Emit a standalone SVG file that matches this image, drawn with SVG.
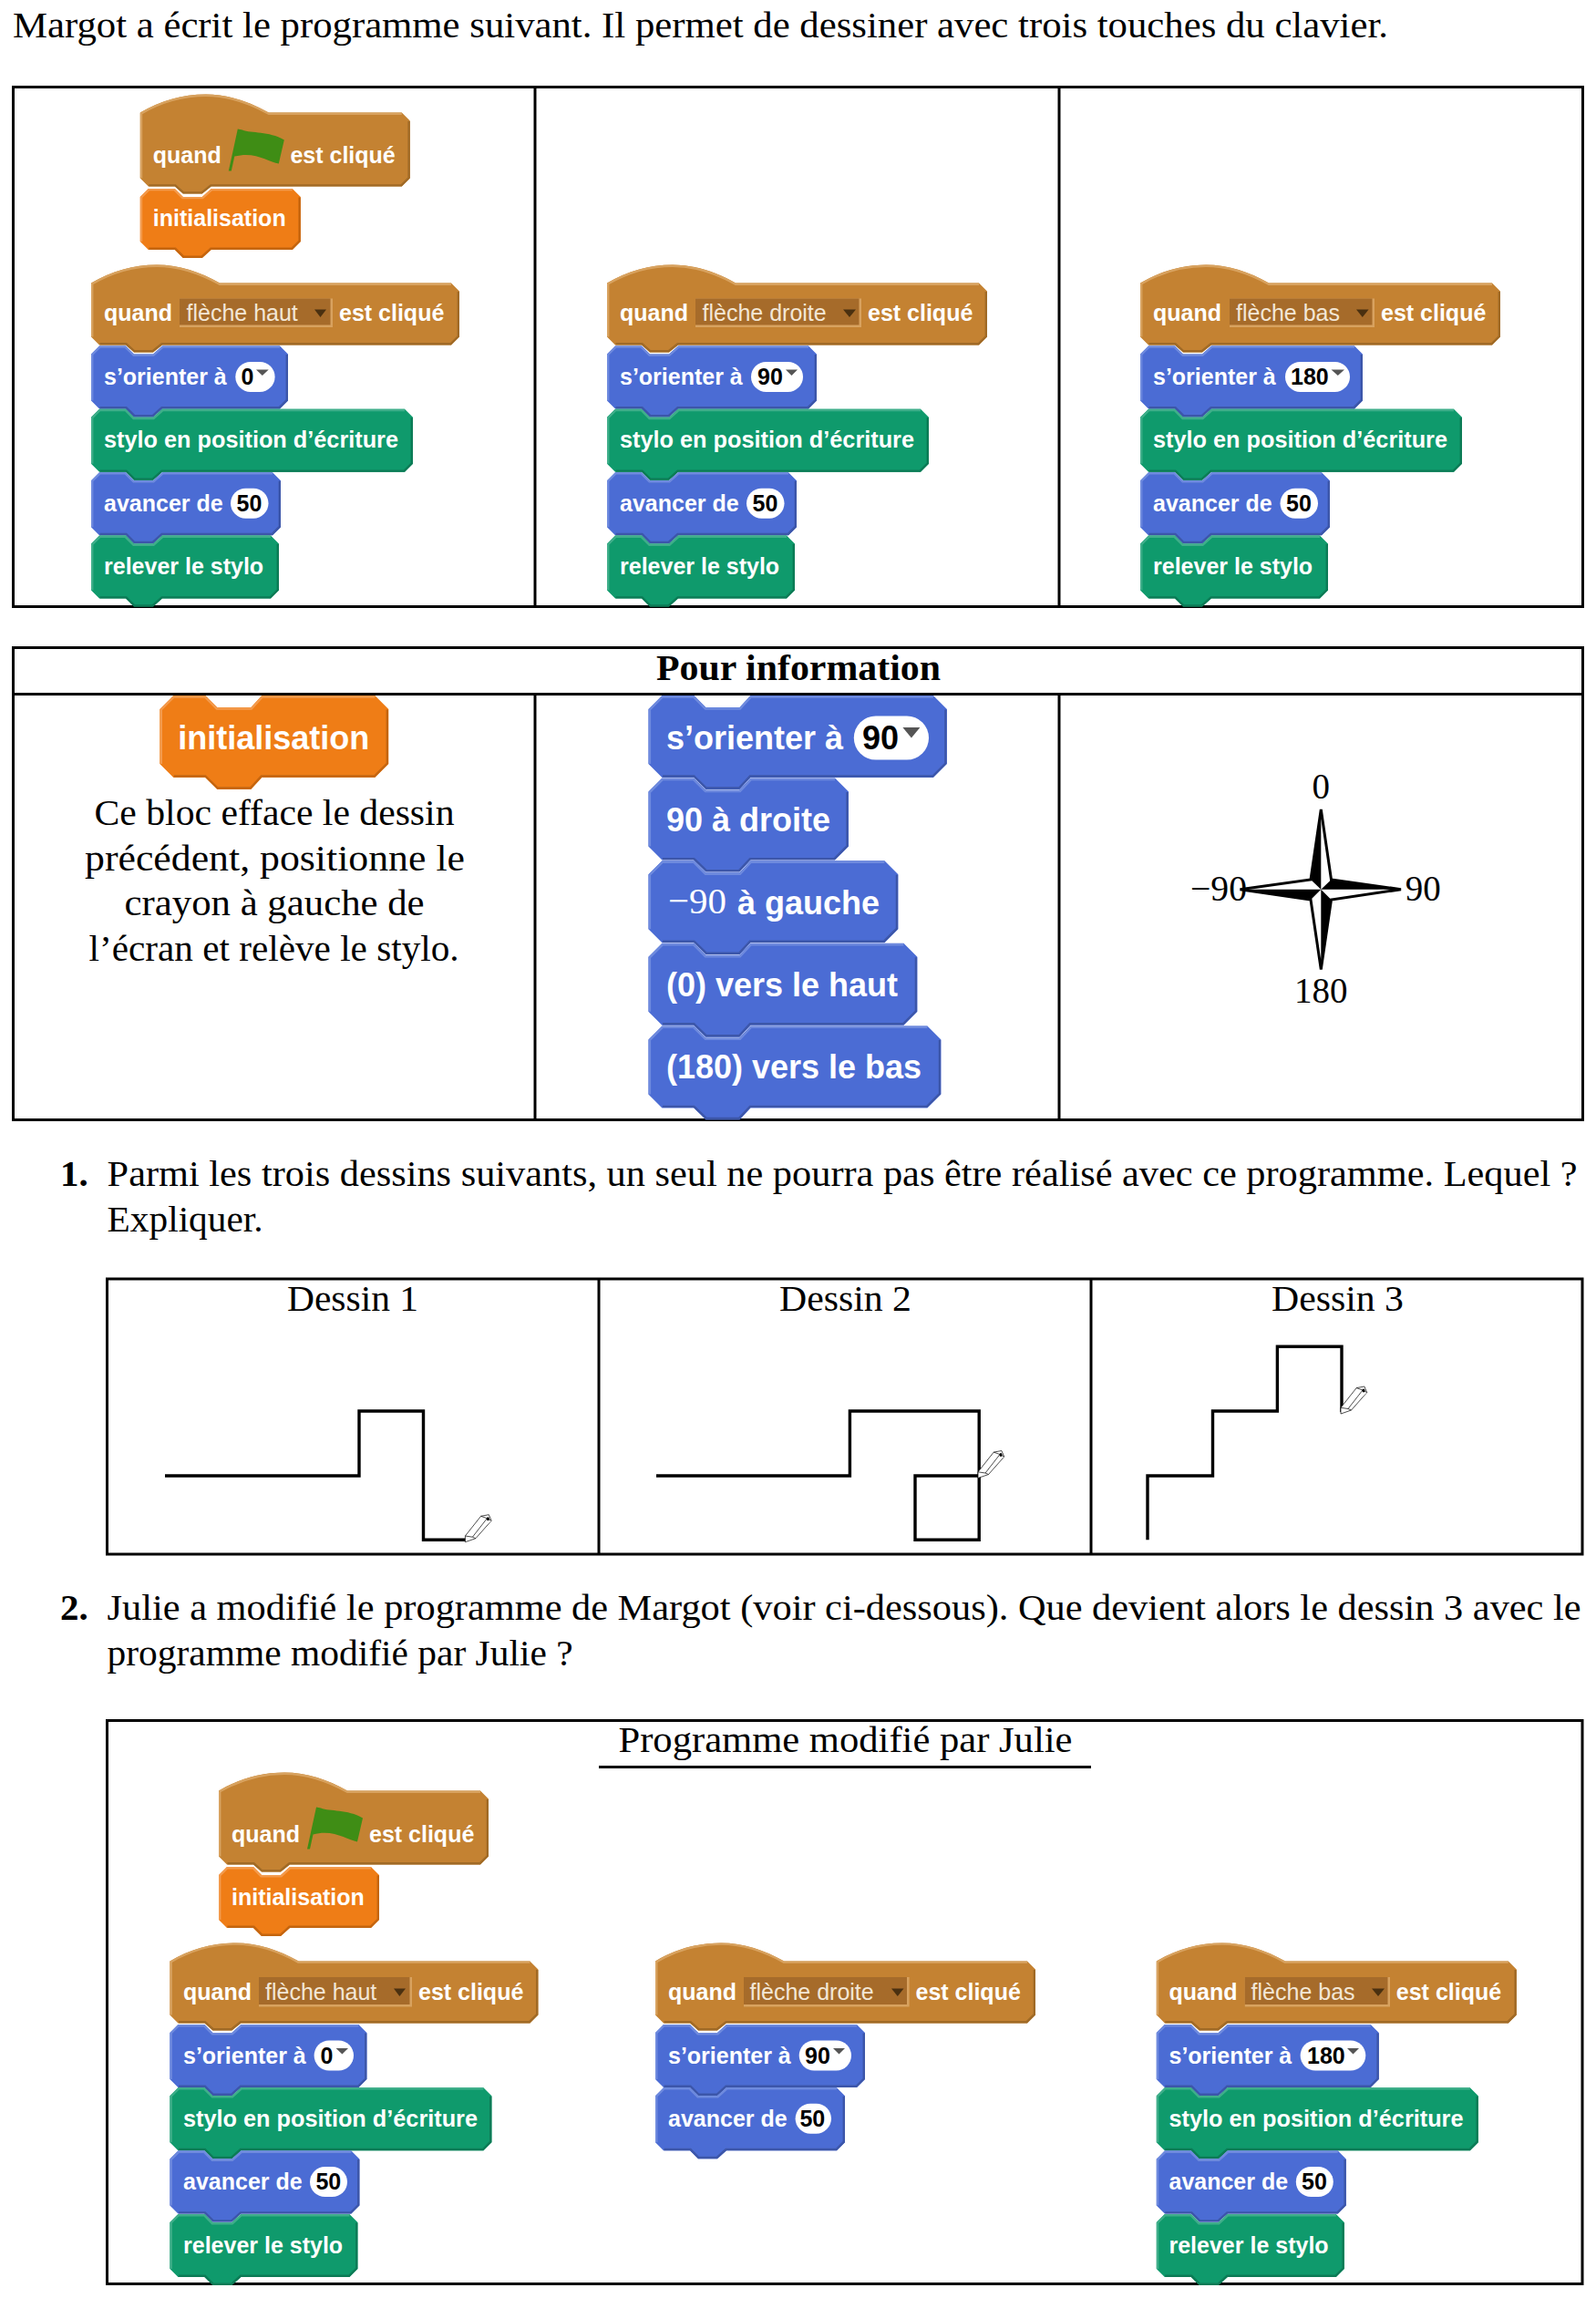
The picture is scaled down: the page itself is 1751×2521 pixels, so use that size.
<svg xmlns="http://www.w3.org/2000/svg" width="1751" height="2521" viewBox="0 0 1751 2521">
<style>
.blue{--f:#4b6cd4;--h:#6e8ade;--d:#3c56a9}
.green{--f:#0f9a6c;--h:#3fae8a;--d:#0c7b56}
.orange{--f:#ef7d16;--h:#f39a4c;--d:#c4650f}
.brown{--f:#c48232;--h:#d8a25f;--d:#a06a26}
.f{fill:var(--f)}
.h{fill:none;stroke:var(--h);stroke-width:2.4}
.d{fill:none;stroke:var(--d);stroke-width:2.4}
.t{font-family:"Liberation Sans",Arial,sans-serif;font-weight:700;font-size:25px;fill:#fff}
.big{font-size:36px}
.v{font-family:"Liberation Sans",Arial,sans-serif;font-weight:700;font-size:25px;fill:#000}
.vb{font-size:36px}
.dd{font-family:"Liberation Sans",Arial,sans-serif;font-size:25px;fill:#f3e7d6}
.pill{fill:#fff}
.tri{fill:#555}
.dtri{fill:#4a3010}
.ddl{fill:#d8a25f}
.ddk{fill:#a66b2a}
.flag{fill:#3f8d15}
.s{font-family:"Liberation Serif","Times New Roman",serif;font-size:41px;fill:#000}
.b{font-weight:700}
.n{font-size:39px}
.rule{fill:none;stroke:#000;stroke-width:3}
.draw{fill:none;stroke:#000;stroke-width:3.4;stroke-linejoin:miter}
.pen{fill:#fff;stroke:#000;stroke-width:.7;stroke-linejoin:round}
</style>
<defs>
<g id="s176"><path class="f" d="M0 9 9 0H38l9 9H68L78 0H167l9 9v49l-9 9H78L68 76H47L38 67H9L0 58z"/><path class="h" d="M1.2 58V9.5L9.5 1.2H37.5l9 9H68.5l10-9H167"/><path class="d" d="M174.8 9.5v48l-8.3 8.3H77.5l-10 9H47.5l-9-9H9.5"/></g>
<g id="s216"><path class="f" d="M0 9 9 0H38l9 9H68L78 0H207l9 9v51l-9 9H78L68 78H47L38 69H9L0 60z"/><path class="h" d="M1.2 60V9.5L9.5 1.2H37.5l9 9H68.5l10-9H207"/><path class="d" d="M214.8 9.5v50l-8.3 8.3H77.5l-10 9H47.5l-9-9H9.5"/></g>
<g id="s230"><path class="f" d="M0 9 9 0H38l9 9H68L78 0H221l9 9v51l-9 9H78L68 78H47L38 69H9L0 60z"/><path class="h" d="M1.2 60V9.5L9.5 1.2H37.5l9 9H68.5l10-9H221"/><path class="d" d="M228.8 9.5v50l-8.3 8.3H77.5l-10 9H47.5l-9-9H9.5"/></g>
<g id="s244"><path class="f" d="M0 9 9 0H38l9 9H68L78 0H235l9 9v51l-9 9H78L68 78H47L38 69H9L0 60z"/><path class="h" d="M1.2 60V9.5L9.5 1.2H37.5l9 9H68.5l10-9H235"/><path class="d" d="M242.8 9.5v50l-8.3 8.3H77.5l-10 9H47.5l-9-9H9.5"/></g>
<g id="s353"><path class="f" d="M0 9 9 0H38l9 9H68L78 0H344l9 9v51l-9 9H78L68 78H47L38 69H9L0 60z"/><path class="h" d="M1.2 60V9.5L9.5 1.2H37.5l9 9H68.5l10-9H344"/><path class="d" d="M351.8 9.5v50l-8.3 8.3H77.5l-10 9H47.5l-9-9H9.5"/></g>
<g id="s208"><path class="f" d="M0 9 9 0H38l9 9H68L78 0H199l9 9v51l-9 9H78L68 78H47L38 69H9L0 60z"/><path class="h" d="M1.2 60V9.5L9.5 1.2H37.5l9 9H68.5l10-9H199"/><path class="d" d="M206.8 9.5v50l-8.3 8.3H77.5l-10 9H47.5l-9-9H9.5"/></g>
<g id="s206"><path class="f" d="M0 9 9 0H38l9 9H68L78 0H197l9 9v51l-9 9H78L68 78H47L38 69H9L0 60z"/><path class="h" d="M1.2 60V9.5L9.5 1.2H37.5l9 9H68.5l10-9H197"/><path class="d" d="M204.8 9.5v50l-8.3 8.3H77.5l-10 9H47.5l-9-9H9.5"/></g>
<g id="hflag"><path class="f" d="M0 0C22-13 46-20 72-20C97-20 120-12 141 0H287l9 9v63l-9 9H78L68 89H47L38 81H9L0 72z"/><path class="h" d="M1.2 72V.8C23-12 46-18.8 72-18.8C97-18.8 119-11 141 1.2H287"/><path class="d" d="M294.8 9.5v62l-8.3 8.3H77.5l-10 8H47.5l-9-8H9.5"/><path class="flag" d="M97 64 107 18 112 19C122 23 141 20 158 30L152 56C141 54 126 42 103.5 48L100 64z"/></g>
<g id="h404"><path class="f" d="M0 0C22-13 46-20 72-20C97-20 120-12 141 0H395l9 9v50l-9 9H78L68 76H47L38 68H9L0 59z"/><path class="h" d="M1.2 59V.8C23-12 46-18.8 72-18.8C97-18.8 119-11 141 1.2H395"/><path class="d" d="M402.8 9.5v49l-8.3 8.3H77.5l-10 8H47.5l-9-8H9.5"/></g>
<g id="h417"><path class="f" d="M0 0C22-13 46-20 72-20C97-20 120-12 141 0H408l9 9v50l-9 9H78L68 76H47L38 68H9L0 59z"/><path class="h" d="M1.2 59V.8C23-12 46-18.8 72-18.8C97-18.8 119-11 141 1.2H408"/><path class="d" d="M415.8 9.5v49l-8.3 8.3H77.5l-10 8H47.5l-9-8H9.5"/></g>
<g id="h395"><path class="f" d="M0 0C22-13 46-20 72-20C97-20 120-12 141 0H386l9 9v50l-9 9H78L68 76H47L38 68H9L0 59z"/><path class="h" d="M1.2 59V.8C23-12 46-18.8 72-18.8C97-18.8 119-11 141 1.2H386"/><path class="d" d="M393.8 9.5v49l-8.3 8.3H77.5l-10 8H47.5l-9-8H9.5"/></g>
<g id="pencil"><path class="pen" d="M0 0 0-6.7 17.2-28.4 25.9-30 28.7-23.4 11.5-4Z"/><path class="pen" d="M0-6.7 8-5.5 11.5-4M8-5.5 24-26 28.7-23.4M24-26 17.2-28.4"/><ellipse cx="25" cy="-25.5" rx="1.5" ry="2" fill="#000"/></g>
</defs>

<text class="s" x="14" y="41" textLength="1509" lengthAdjust="spacingAndGlyphs">Margot a écrit le programme suivant. Il permet de dessiner avec trois touches du clavier.</text>

<g id="table-programme">
<rect class="rule" x="14.5" y="95.5" width="1722" height="570"/>
<path class="rule" d="M587 95.5V665.5M1162 95.5V665.5"/>
</g>

<g id="m-flag" class="brown" transform="translate(153.8 123.6)"><use href="#hflag"/><text class="t" x="14" y="55">quand</text><text class="t" x="164.6" y="55">est cliqué</text></g>
<g id="m-init" class="orange" transform="translate(153.8 206.9)"><use href="#s176"/><text class="t" x="14" y="41.5">initialisation</text></g>

<g id="m-haut-hat" class="brown" transform="translate(100 310.5)"><use href="#h404"/><text class="t" x="14" y="41.5">quand</text><rect class="ddl" x="97" y="17" width="168" height="31.5"/><rect class="ddk" x="97" y="17" width="165.5" height="29"/><text class="dd" x="104.5" y="41.5">flèche haut</text><path class="dtri" d="M245 29H258L251.5 37.5z"/><text class="t" x="272" y="41.5">est cliqué</text></g>
<g id="m-haut-or" class="blue" transform="translate(100 379.4)"><use href="#s216"/><text class="t" x="14" y="43">s’orienter à</text><rect class="pill" x="158.3" y="17.5" width="43.3" height="33" rx="16.5"/><text class="v" x="164.4" y="43">0</text><path class="tri" d="M181 26H194.7L187.8 32.6z"/></g>
<g id="m-haut-st" class="green" transform="translate(100 448.8)"><use href="#s353"/><text class="t" x="14" y="42.5" textLength="323" lengthAdjust="spacingAndGlyphs">stylo en position d’écriture</text></g>
<g id="m-haut-av" class="blue" transform="translate(100 518.2)"><use href="#s208"/><text class="t" x="14" y="42.5">avancer de</text><rect class="pill" x="153" y="17.5" width="41.5" height="33" rx="16.5"/><text class="v" x="159.5" y="42.5">50</text></g>
<g id="m-haut-re" class="green" transform="translate(100 587.6)"><use href="#s206"/><text class="t" x="14" y="42.5">relever le stylo</text></g>

<g id="m-droite-hat" class="brown" transform="translate(666 310.5)"><use href="#h417"/><text class="t" x="14" y="41.5">quand</text><rect class="ddl" x="97" y="17" width="182" height="31.5"/><rect class="ddk" x="97" y="17" width="179.5" height="29"/><text class="dd" x="104.5" y="41.5">flèche droite</text><path class="dtri" d="M259 29H273L266 37.5z"/><text class="t" x="286" y="41.5">est cliqué</text></g>
<g id="m-droite-or" class="blue" transform="translate(666 379.4)"><use href="#s230"/><text class="t" x="14" y="43">s’orienter à</text><rect class="pill" x="158" y="17.5" width="57" height="33" rx="16.5"/><text class="v" x="165" y="43">90</text><path class="tri" d="M196 26H209L202.5 32.6z"/></g>
<g id="m-droite-st" class="green" transform="translate(666 448.8)"><use href="#s353"/><text class="t" x="14" y="42.5" textLength="323" lengthAdjust="spacingAndGlyphs">stylo en position d’écriture</text></g>
<g id="m-droite-av" class="blue" transform="translate(666 518.2)"><use href="#s208"/><text class="t" x="14" y="42.5">avancer de</text><rect class="pill" x="153" y="17.5" width="41.5" height="33" rx="16.5"/><text class="v" x="159.5" y="42.5">50</text></g>
<g id="m-droite-re" class="green" transform="translate(666 587.6)"><use href="#s206"/><text class="t" x="14" y="42.5">relever le stylo</text></g>

<g id="m-bas-hat" class="brown" transform="translate(1251 310.5)"><use href="#h395"/><text class="t" x="14" y="41.5">quand</text><rect class="ddl" x="98" y="17" width="159" height="31.5"/><rect class="ddk" x="98" y="17" width="156.5" height="29"/><text class="dd" x="105" y="41.5">flèche bas</text><path class="dtri" d="M237 29H250.6L243.8 37.5z"/><text class="t" x="264" y="41.5">est cliqué</text></g>
<g id="m-bas-or" class="blue" transform="translate(1251 379.4)"><use href="#s244"/><text class="t" x="14" y="43">s’orienter à</text><rect class="pill" x="159" y="17.5" width="71" height="33" rx="16.5"/><text class="v" x="165" y="43">180</text><path class="tri" d="M209.5 26H224L216.8 32.6z"/></g>
<g id="m-bas-st" class="green" transform="translate(1251 448.8)"><use href="#s353"/><text class="t" x="14" y="42.5" textLength="323" lengthAdjust="spacingAndGlyphs">stylo en position d’écriture</text></g>
<g id="m-bas-av" class="blue" transform="translate(1251 518.2)"><use href="#s208"/><text class="t" x="14" y="42.5">avancer de</text><rect class="pill" x="153.5" y="17.5" width="41.5" height="33" rx="16.5"/><text class="v" x="160" y="42.5">50</text></g>
<g id="m-bas-re" class="green" transform="translate(1251 587.6)"><use href="#s206"/><text class="t" x="14" y="42.5">relever le stylo</text></g>

<g id="table-info">
<rect class="rule" x="14.5" y="710.5" width="1722" height="518"/>
<path class="rule" d="M14.5 761.5H1736.5M587 761.5V1228.5M1162 761.5V1228.5"/>
<text class="s b" x="720" y="746" textLength="312" lengthAdjust="spacingAndGlyphs">Pour information</text>
</g>
<g id="i-init" class="orange" transform="translate(175.3 763)"><path class="f" d="M0 15 15 0H50l13 13H100L112 0H236l15 15v60l-15 15H112l-12 13H63L50 90H15L0 75z"/><path class="h" d="M1.5 75V15.5L15.5 1.5H49.5l13 13H100.5L112.5 1.5H236"/><path class="d" d="M249.5 15.5v59l-14 14H111.5l-12 13H63.5L50 88.5H15.5"/><text class="t big" x="20" y="58.5">initialisation</text></g>
<g id="i-texte">
<text class="s" x="103.5" y="905" textLength="395" lengthAdjust="spacingAndGlyphs">Ce bloc efface le dessin</text>
<text class="s" x="93" y="954.5" textLength="417" lengthAdjust="spacingAndGlyphs">précédent, positionne le</text>
<text class="s" x="136.6" y="1004" textLength="329" lengthAdjust="spacingAndGlyphs">crayon à gauche de</text>
<text class="s" x="97.6" y="1053.5" textLength="406" lengthAdjust="spacingAndGlyphs">l’écran et relève le stylo.</text>
</g>
<g id="i-or" class="blue" transform="translate(711.4 763)"><path class="f" d="M0 15 15 0H50l13 13H100L112 0H312.5l15 15v60l-15 15H112l-12 13H63L50 90H15L0 75z"/><path class="h" d="M1.5 75V15.5L15.5 1.5H49.5l13 13H100.5L112.5 1.5H312.5"/><path class="d" d="M326 15.5v59l-14 14H111.5l-12 13H63.5L50 88.5H15.5"/><text class="t big" x="19.5" y="58.5">s’orienter à</text><rect class="pill" x="225.4" y="22.4" width="82.2" height="48.2" rx="24.1"/><text class="v vb" x="234.6" y="58.5">90</text><path class="tri" d="M279 35H298L288.5 46.5z"/></g>
<g id="i-droite" class="blue" transform="translate(711.4 853.6)"><path class="f" d="M0 15 15 0H50l13 13H100L112 0H204.6l15 15v60l-15 15H112l-12 13H63L50 90H15L0 75z"/><path class="h" d="M1.5 75V15.5L15.5 1.5H49.5l13 13H100.5L112.5 1.5H204.6"/><path class="d" d="M218.1 15.5v59l-14 14H111.5l-12 13H63.5L50 88.5H15.5"/><text class="t big" x="19.5" y="58">90 à droite</text></g>
<g id="i-gauche" class="blue" transform="translate(711.4 944.2)"><path class="f" d="M0 15 15 0H50l13 13H100L112 0H259l15 15v60l-15 15H112l-12 13H63L50 90H15L0 75z"/><path class="h" d="M1.5 75V15.5L15.5 1.5H49.5l13 13H100.5L112.5 1.5H259"/><path class="d" d="M272.5 15.5v59l-14 14H111.5l-12 13H63.5L50 88.5H15.5"/><text class="s" style="fill:#fff" x="21.6" y="58" textLength="64" lengthAdjust="spacingAndGlyphs">−90</text><text class="t big" x="97.6" y="58.5">à gauche</text></g>
<g id="i-haut" class="blue" transform="translate(711.4 1034.8)"><path class="f" d="M0 15 15 0H50l13 13H100L112 0H280l15 15v60l-15 15H112l-12 13H63L50 90H15L0 75z"/><path class="h" d="M1.5 75V15.5L15.5 1.5H49.5l13 13H100.5L112.5 1.5H280"/><path class="d" d="M293.5 15.5v59l-14 14H111.5l-12 13H63.5L50 88.5H15.5"/><text class="t big" x="19.5" y="58">(0) vers le haut</text></g>
<g id="i-bas" class="blue" transform="translate(711.4 1125.4)"><path class="f" d="M0 15 15 0H50l13 13H100L112 0H306l15 15v60l-15 15H112l-12 13H63L50 90H15L0 75z"/><path class="h" d="M1.5 75V15.5L15.5 1.5H49.5l13 13H100.5L112.5 1.5H306"/><path class="d" d="M319.5 15.5v59l-14 14H111.5l-12 13H63.5L50 88.5H15.5"/><text class="t big" x="19.5" y="58">(180) vers le bas</text></g>

<g id="rose">
<path d="M1449.3 888 1438 965 1360.5 975.7 1438 987 1449.3 1063.5 1460.5 987 1537 975.7 1460.5 965z" fill="#fff" stroke="#000" stroke-width="3" stroke-linejoin="miter" stroke-miterlimit="4"/>
<path d="M1449.3 888 1438 965 1449.3 975.7zM1537 975.7 1460.5 965 1449.3 975.7zM1449.3 1063.5 1460.5 987 1449.3 975.7zM1360.5 975.7 1438 987 1449.3 975.7z" fill="#000"/>
<text class="s n" x="1449.3" y="875.5" text-anchor="middle">0</text>
<text class="s n" x="1449.3" y="1100" text-anchor="middle">180</text>
<text class="s n" x="1541.7" y="988">90</text>
<text class="s n" x="1306" y="988" textLength="62" lengthAdjust="spacingAndGlyphs">−90</text>
</g>

<text class="s b" x="66" y="1301">1.</text>
<text class="s" x="117.6" y="1301" textLength="1613" lengthAdjust="spacingAndGlyphs">Parmi les trois dessins suivants, un seul ne pourra pas être réalisé avec ce programme. Lequel ?</text>
<text class="s" x="117.6" y="1351" textLength="171" lengthAdjust="spacingAndGlyphs">Expliquer.</text>

<g id="table-dessins">
<rect class="rule" x="117.5" y="1403" width="1618.5" height="302"/>
<path class="rule" d="M657 1403V1705M1197 1403V1705"/>
<text class="s" x="315" y="1438" textLength="144" lengthAdjust="spacingAndGlyphs">Dessin 1</text>
<text class="s" x="855" y="1438" textLength="145" lengthAdjust="spacingAndGlyphs">Dessin 2</text>
<text class="s" x="1395" y="1438" textLength="145" lengthAdjust="spacingAndGlyphs">Dessin 3</text>
</g>
<g id="dessin-1"><path class="draw" d="M181 1619H394V1548H464.5V1689.3H512"/><use href="#pencil" x="510.4" y="1691.7"/></g>
<g id="dessin-2"><path class="draw" d="M720 1619H932.4V1548H1074.2V1689.3H1004V1619H1074.2"/><use href="#pencil" x="1073" y="1621.5"/></g>
<g id="dessin-3"><path class="draw" d="M1259 1689.3V1619H1330.5V1548H1401.4V1477.3H1472V1549"/><use href="#pencil" x="1471" y="1551"/></g>

<text class="s b" x="66" y="1777">2.</text>
<text class="s" x="117.6" y="1777" textLength="1617" lengthAdjust="spacingAndGlyphs">Julie a modifié le programme de Margot (voir ci-dessous). Que devient alors le dessin 3 avec le</text>
<text class="s" x="117.6" y="1827" textLength="511" lengthAdjust="spacingAndGlyphs">programme modifié par Julie ?</text>

<g id="table-julie">
<rect class="rule" x="117.5" y="1887.5" width="1618.5" height="618"/>
<path class="rule" d="M657 1938.5H1197"/>
<text class="s" x="678.5" y="1922" textLength="498" lengthAdjust="spacingAndGlyphs">Programme modifié par Julie</text>
</g>

<g id="j-flag" class="brown" transform="translate(240 1964.5)"><use href="#hflag"/><text class="t" x="14" y="56">quand</text><text class="t" x="165" y="56">est cliqué</text></g>
<g id="j-init" class="orange" transform="translate(240 2048)"><use href="#s176"/><text class="t" x="14" y="41.5">initialisation</text></g>

<g id="j-haut-hat" class="brown" transform="translate(186.4 2151.4)"><use href="#h404"/><text class="t" x="14.6" y="42.5">quand</text><rect class="ddl" x="97.6" y="17.6" width="168" height="32.5"/><rect class="ddk" x="97.6" y="17.6" width="165.5" height="30"/><text class="dd" x="104.6" y="42.5">flèche haut</text><path class="dtri" d="M245.6 30H258.6L252 38.5z"/><text class="t" x="272.6" y="42.5">est cliqué</text></g>
<g id="j-haut-or" class="blue" transform="translate(186.4 2221)"><use href="#s216"/><text class="t" x="14.6" y="42.5">s’orienter à</text><rect class="pill" x="158.2" y="17.5" width="43.4" height="33" rx="16.5"/><text class="v" x="165" y="42.5">0</text><path class="tri" d="M182.2 26H195.6L189 32.6z"/></g>
<g id="j-haut-st" class="green" transform="translate(186.4 2290.2)"><use href="#s353"/><text class="t" x="14.6" y="42.5" textLength="323" lengthAdjust="spacingAndGlyphs">stylo en position d’écriture</text></g>
<g id="j-haut-av" class="blue" transform="translate(186.4 2359.6)"><use href="#s208"/><text class="t" x="14.6" y="42.5">avancer de</text><rect class="pill" x="153.6" y="17.5" width="41" height="33" rx="16.5"/><text class="v" x="160" y="42.5">50</text></g>
<g id="j-haut-re" class="green" transform="translate(186.4 2429)"><use href="#s206"/><text class="t" x="14.6" y="42.5">relever le stylo</text></g>

<g id="j-droite-hat" class="brown" transform="translate(719 2151.4)"><use href="#h417"/><text class="t" x="14" y="42.5">quand</text><rect class="ddl" x="97" y="17.6" width="181.6" height="32.5"/><rect class="ddk" x="97" y="17.6" width="179" height="30"/><text class="dd" x="103.5" y="42.5">flèche droite</text><path class="dtri" d="M259 30H272.5L265.8 38.5z"/><text class="t" x="285.5" y="42.5">est cliqué</text></g>
<g id="j-droite-or" class="blue" transform="translate(719 2221)"><use href="#s230"/><text class="t" x="14" y="42.5">s’orienter à</text><rect class="pill" x="157.7" y="17.5" width="57.3" height="33" rx="16.5"/><text class="v" x="164" y="42.5">90</text><path class="tri" d="M195 26H208L201.5 32.6z"/></g>
<g id="j-droite-av" class="blue" transform="translate(719 2290.2)"><use href="#s208"/><text class="t" x="14" y="42.5">avancer de</text><rect class="pill" x="153.6" y="17.5" width="39.4" height="33" rx="16.5"/><text class="v" x="158.4" y="42.5">50</text></g>

<g id="j-bas-hat" class="brown" transform="translate(1268.8 2151.4)"><use href="#h395"/><text class="t" x="13.7" y="42.5">quand</text><rect class="ddl" x="97" y="17.6" width="159.2" height="32.5"/><rect class="ddk" x="97" y="17.6" width="156.7" height="30"/><text class="dd" x="103.8" y="42.5">flèche bas</text><path class="dtri" d="M236.2 30H250.2L243.2 38.5z"/><text class="t" x="263" y="42.5">est cliqué</text></g>
<g id="j-bas-or" class="blue" transform="translate(1268.8 2221)"><use href="#s244"/><text class="t" x="13.7" y="42.5">s’orienter à</text><rect class="pill" x="157.8" y="17.5" width="71.7" height="33" rx="16.5"/><text class="v" x="165.2" y="42.5">180</text><path class="tri" d="M209.2 26H222.2L215.7 32.6z"/></g>
<g id="j-bas-st" class="green" transform="translate(1268.8 2290.2)"><use href="#s353"/><text class="t" x="13.7" y="42.5" textLength="323" lengthAdjust="spacingAndGlyphs">stylo en position d’écriture</text></g>
<g id="j-bas-av" class="blue" transform="translate(1268.8 2359.6)"><use href="#s208"/><text class="t" x="13.7" y="42.5">avancer de</text><rect class="pill" x="153" y="17.5" width="41" height="33" rx="16.5"/><text class="v" x="159.2" y="42.5">50</text></g>
<g id="j-bas-re" class="green" transform="translate(1268.8 2429)"><use href="#s206"/><text class="t" x="13.7" y="42.5">relever le stylo</text></g>
</svg>
